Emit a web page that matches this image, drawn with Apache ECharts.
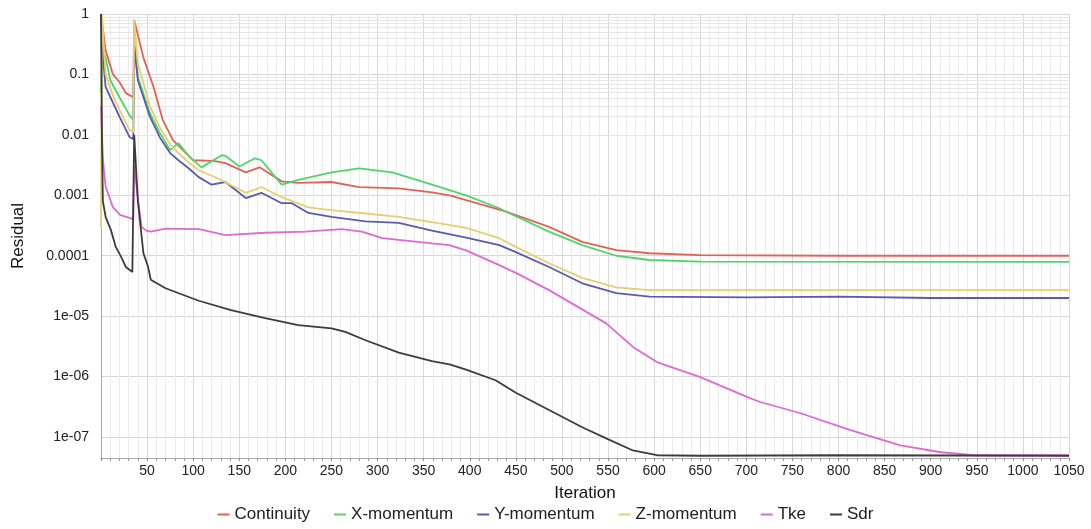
<!DOCTYPE html>
<html>
<head>
<meta charset="utf-8">
<title>Residuals</title>
<script src="https://cdn.jsdelivr.net/npm/echarts@6.0.0/dist/echarts.min.js"></script>
<style>
  html, body { margin: 0; padding: 0; background: #fff; }
  #chart { width: 1091px; height: 529px; }
</style>
</head>
<body>
<div id="chart"></div>
<script>
let seriesNames = ["Continuity", "X-momentum", "Y-momentum", "Z-momentum", "Tke", "Sdr"];
let colorList = ["#dd6457", "#52d46a", "#5a5aae", "#e6cf6e", "#de6ad2", "#3c3c3c"];
let xTicks = [50, 100, 150, 200, 250, 300, 350, 400, 450, 500, 550, 600, 650, 700, 750, 800, 850, 900, 950, 1000, 1050];
let yTicks = ["1", "0.1", "0.01", "0.001", "0.0001", "1e-05", "1e-06", "1e-07"];

// [iteration, residual]
let continuity = [[0, 1], [5, 0.25], [13, 0.1], [20, 0.075], [27, 0.049], [35, 0.042], [36, 0.8], [40, 0.45], [46, 0.19],
  [57, 0.062], [67, 0.0177], [78, 0.0082], [89, 0.0056], [100, 0.0038], [122, 0.0037], [135, 0.0034], [157, 0.0024],
  [172, 0.0029], [196, 0.0017], [214, 0.0016], [250, 0.00166], [280, 0.00137], [323, 0.0013], [359, 0.00112],
  [378, 0.001], [396, 0.00083], [432, 0.00058], [440, 0.00053], [486, 0.0003], [522, 0.00017], [559, 0.000124],
  [595, 0.00011], [650, 0.000102], [800, 0.0001], [1050, 0.0001]];
let xMomentum = [[0, 0.05], [2, 0.25], [5, 0.19], [10, 0.081], [20, 0.042], [31, 0.021], [35, 0.0177], [36, 0.35],
  [40, 0.09], [53, 0.023], [64, 0.0107], [75, 0.0056], [84, 0.0073], [95, 0.0045], [109, 0.0029], [131, 0.0046],
  [135, 0.0045], [150, 0.003], [167, 0.0041], [174, 0.0038], [196, 0.0015], [214, 0.0018], [250, 0.0024],
  [280, 0.0028], [316, 0.0024], [359, 0.0015], [396, 0.001], [432, 0.00061], [440, 0.00053], [486, 0.00025],
  [522, 0.00015], [559, 0.0001], [595, 0.000085], [650, 0.00008], [1050, 0.000079]];
let yMomentum = [[0, 1], [2, 0.2], [5, 0.062], [13, 0.034], [20, 0.02], [31, 0.0092], [35, 0.0085], [36, 0.3],
  [40, 0.08], [53, 0.02], [64, 0.009], [75, 0.005], [84, 0.0038], [95, 0.0028], [106, 0.002], [120, 0.0015],
  [135, 0.00166], [157, 0.0009], [174, 0.0011], [196, 0.00074], [207, 0.00074], [225, 0.00051], [250, 0.00044],
  [287, 0.00037], [323, 0.00035], [359, 0.00026], [396, 0.0002], [432, 0.00015], [450, 0.000115], [486, 0.000065],
  [522, 0.000035], [559, 0.000024], [595, 0.000021], [700, 0.0000205], [800, 0.000021], [900, 0.00002], [1050, 0.00002]];
let zMomentum = [[0, 0.0003], [1, 1], [3, 0.3], [5, 0.1], [13, 0.045], [20, 0.026], [31, 0.012], [35, 0.011],
  [36, 0.8], [40, 0.15], [53, 0.03], [64, 0.013], [75, 0.007], [84, 0.005], [95, 0.0035], [106, 0.0026],
  [127, 0.0019], [157, 0.0011], [174, 0.00137], [196, 0.00093], [225, 0.00063], [250, 0.00057], [287, 0.0005],
  [323, 0.00044], [359, 0.00036], [396, 0.00029], [432, 0.000195], [450, 0.00014], [486, 0.000075],
  [522, 0.000043], [559, 0.00003], [595, 0.000027], [1050, 0.000027]];
let tke = [[0, 0.03], [2, 0.004], [5, 0.0014], [13, 0.00063], [21, 0.00047], [32, 0.00042], [35, 0.0004],
  [36, 0.003], [40, 0.0009], [44, 0.0003], [49, 0.00026], [54, 0.00025], [70, 0.00028], [106, 0.000275],
  [135, 0.00022], [178, 0.00024], [222, 0.00025], [261, 0.000275], [283, 0.00025], [305, 0.000195],
  [359, 0.00016], [378, 0.00015], [396, 0.000123], [432, 0.00007], [450, 0.000052], [486, 0.000027],
  [548, 0.0000076], [577, 0.0000031], [603, 0.00000174], [650, 0.00000098], [704, 0.00000044],
  [715, 0.00000038], [758, 0.00000025], [813, 0.00000013], [867, 0.000000073], [911, 0.000000056],
  [947, 0.00000005], [1050, 0.00000005]];
let sdr = [[0, 1], [1, 0.01], [2, 0.0008], [5, 0.00044], [11, 0.00026], [16, 0.00014], [22, 0.000095],
  [27, 0.000065], [34, 0.000054], [35, 0.000054], [36, 0.01], [40, 0.0008], [46, 0.00011], [51, 0.000066],
  [54, 0.00004], [70, 0.000029], [106, 0.000018], [141, 0.0000126], [178, 0.0000093], [214, 0.0000071],
  [250, 0.0000063], [265, 0.0000055], [287, 0.000004], [323, 0.0000025], [359, 0.0000018], [378, 0.0000016],
  [396, 0.0000013], [428, 0.00000087], [450, 0.00000054], [486, 0.00000028], [522, 0.000000145],
  [548, 0.000000095], [577, 0.00000006], [603, 0.00000005], [650, 0.000000049], [800, 0.00000005],
  [1050, 0.000000049]];

let seriesData = [continuity, xMomentum, yMomentum, zMomentum, tke, sdr];

let myChart = echarts.init(document.getElementById("chart"));

// log minor grid lines (2..9 in every decade)
let minorLines = [];
for (let e = -8; e < 0; e++) {
  for (let k = 2; k <= 9; k++) {
    let v = k * Math.pow(10, e);
    if (v > 4.5e-8) minorLines.push({ yAxis: v });
  }
}

let _series = [{
  name: "grid",
  type: "line",
  data: [],
  silent: true,
  z: 0,
  markLine: {
    silent: true,
    symbol: "none",
    animation: false,
    z: 0,
    label: { show: false },
    emphasis: { disabled: true },
    lineStyle: { color: "#e6e6e6", width: 1, type: "solid" },
    data: minorLines
  }
}];
for (let i = 0; i < seriesNames.length; i++) {
  _series.push({
    name: seriesNames[i],
    type: "line",
    data: seriesData[i],
    showSymbol: false,
    symbol: "none",
    color: colorList[i],
    lineStyle: { width: 1.8, color: colorList[i] },
    z: 10
  });
}

let option = {
  animation: false,
  backgroundColor: "#fff",
  textStyle: { fontFamily: "Liberation Sans, Arial, sans-serif" },
  grid: { left: 101, right: 22, top: 14, bottom: 71 },
  legend: {
    data: seriesNames,
    bottom: 1,
    left: "center",
    icon: "rect",
    itemWidth: 12,
    itemHeight: 2,
    itemGap: 24,
    textStyle: { fontSize: 17, color: "#222", fontFamily: "Liberation Sans, Arial, sans-serif" }
  },
  xAxis: {
    type: "value",
    min: 0,
    max: 1050,
    interval: 50,
    name: "Iteration",
    nameLocation: "middle",
    nameGap: 27,
    nameTextStyle: { fontSize: 17, color: "#111" },
    axisLine: { show: true, lineStyle: { color: "#aaa" } },
    axisTick: { show: true, length: 3, lineStyle: { color: "#888" } },
    minorTick: { show: true, splitNumber: 5, length: 3, lineStyle: { color: "#999" } },
    axisLabel: {
      showMinLabel: false,
      fontSize: 14,
      color: "#222",
      margin: 6,
      formatter: function(v) {
        return xTicks.indexOf(v) >= 0 ? String(v) : "";
      }
    },
    splitLine: { show: true, lineStyle: { color: "#d9d9d9" } },
    minorSplitLine: { show: true, lineStyle: { color: "#ebebeb" } }
  },
  yAxis: {
    type: "log",
    logBase: 10,
    min: 4.5e-8,
    max: 1,
    name: "Residual",
    nameLocation: "middle",
    nameGap: 74,
    nameTextStyle: { fontSize: 17, color: "#111" },
    axisLine: { show: true, lineStyle: { color: "#aaa" } },
    axisTick: { show: false },
    axisLabel: {
      showMinLabel: false,
      fontSize: 14,
      color: "#222",
      margin: 12,
      formatter: function(v) {
        let e = Math.round(Math.log10(v));
        if (Math.abs(Math.log10(v) - e) > 0.01) return "";
        return yTicks[-e] || "";
      }
    },
    splitLine: { show: true, lineStyle: { color: "#d6d6d6" } }
  },
  series: _series
};
myChart.setOption(option);
</script>
</body>
</html>
